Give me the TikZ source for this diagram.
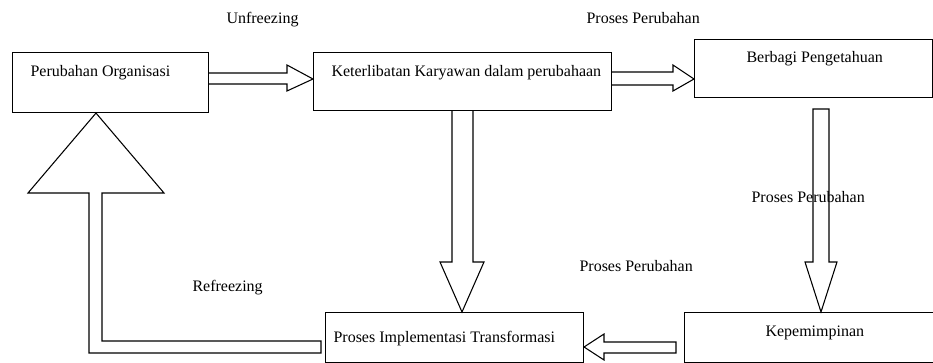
\documentclass[tikz,border=0pt]{standalone}
\usepackage{fontspec}
\setmainfont{Liberation Serif}
\begin{document}
\begin{tikzpicture}[x=0.75pt,y=-0.75pt,line width=0.8pt,
  box/.style={draw,rectangle,anchor=north west,inner sep=0pt},
  lbl/.style={anchor=base west,inner sep=0pt,font=\fontsize{12}{14}\selectfont},
  blockarrow/.style={draw,line join=miter}]
\useasboundingbox (0,0) rectangle (933,363);
\clip (0,0) rectangle (933,363);
% boxes
\node[box,minimum width=147pt,minimum height=45pt] (b1) at (12,52) {};
\node[box,minimum width=223.5pt,minimum height=43.5pt] (b2) at (313,52) {};
\node[box,minimum width=178.5pt,minimum height=43.5pt] (b3) at (694,39) {};
\node[box,minimum width=193.5pt,minimum height=37.5pt] (b4) at (325,312) {};
\node[box,minimum width=195pt,minimum height=37.5pt] (b5) at (684,312) {};
% box texts
\node[lbl] (t1) at (30,77) {Perubahan Organisasi};
\node[lbl] (t2) at (331,77) {Keterlibatan Karyawan dalam perubahaan};
\node[lbl] (t3) at (746,63) {Berbagi Pengetahuan};
\node[lbl] (t4) at (333,343) {Proses Implementasi Transformasi};
\node[lbl] (t5) at (765,337) {Kepemimpinan};
% block arrows
\draw[blockarrow] (b1.east |- 0,73) -- (287,73) -- (287,65) -- (b2.west |- 0,79) -- (287,91) -- (287,84) -- (b1.east |- 0,84);
\draw[blockarrow] (b2.east |- 0,72) -- (673,72) -- (673,65) -- (b3.west |- 0,79) -- (673,91) -- (673,85) -- (b2.east |- 0,85);
\draw[blockarrow] (452,0 |- b2.south) -- (452,262) -- (440,262) -- (462,0 |- b4.north) -- (484,262) -- (473,262) -- (473,0 |- b2.south);
\draw[blockarrow] (829,109) -- (813,109) -- (813,262) -- (805,262) -- (821,0 |- b5.north) -- (837,262) -- (829,262) -- cycle;
\draw[blockarrow] (676,342) -- (604,342) -- (604,334) -- (b4.east |- 0,347) -- (604,360) -- (604,353) -- (676,353) -- cycle;
\draw[blockarrow] (96,0 |- b1.south) -- (164,193) -- (102,193) -- (102,341) -- (321,341) -- (321,353) -- (89,353) -- (89,193) -- (28,193) -- cycle;
% labels
\node[lbl] (l1) at (226,24) {Unfreezing};
\node[lbl] (l2) at (586,24) {Proses Perubahan};
\node[lbl] (l3) at (751,203) {Proses Perubahan};
\node[lbl] (l4) at (579,272) {Proses Perubahan};
\node[lbl] (l5) at (192,292) {Refreezing};
\end{tikzpicture}
\end{document}
